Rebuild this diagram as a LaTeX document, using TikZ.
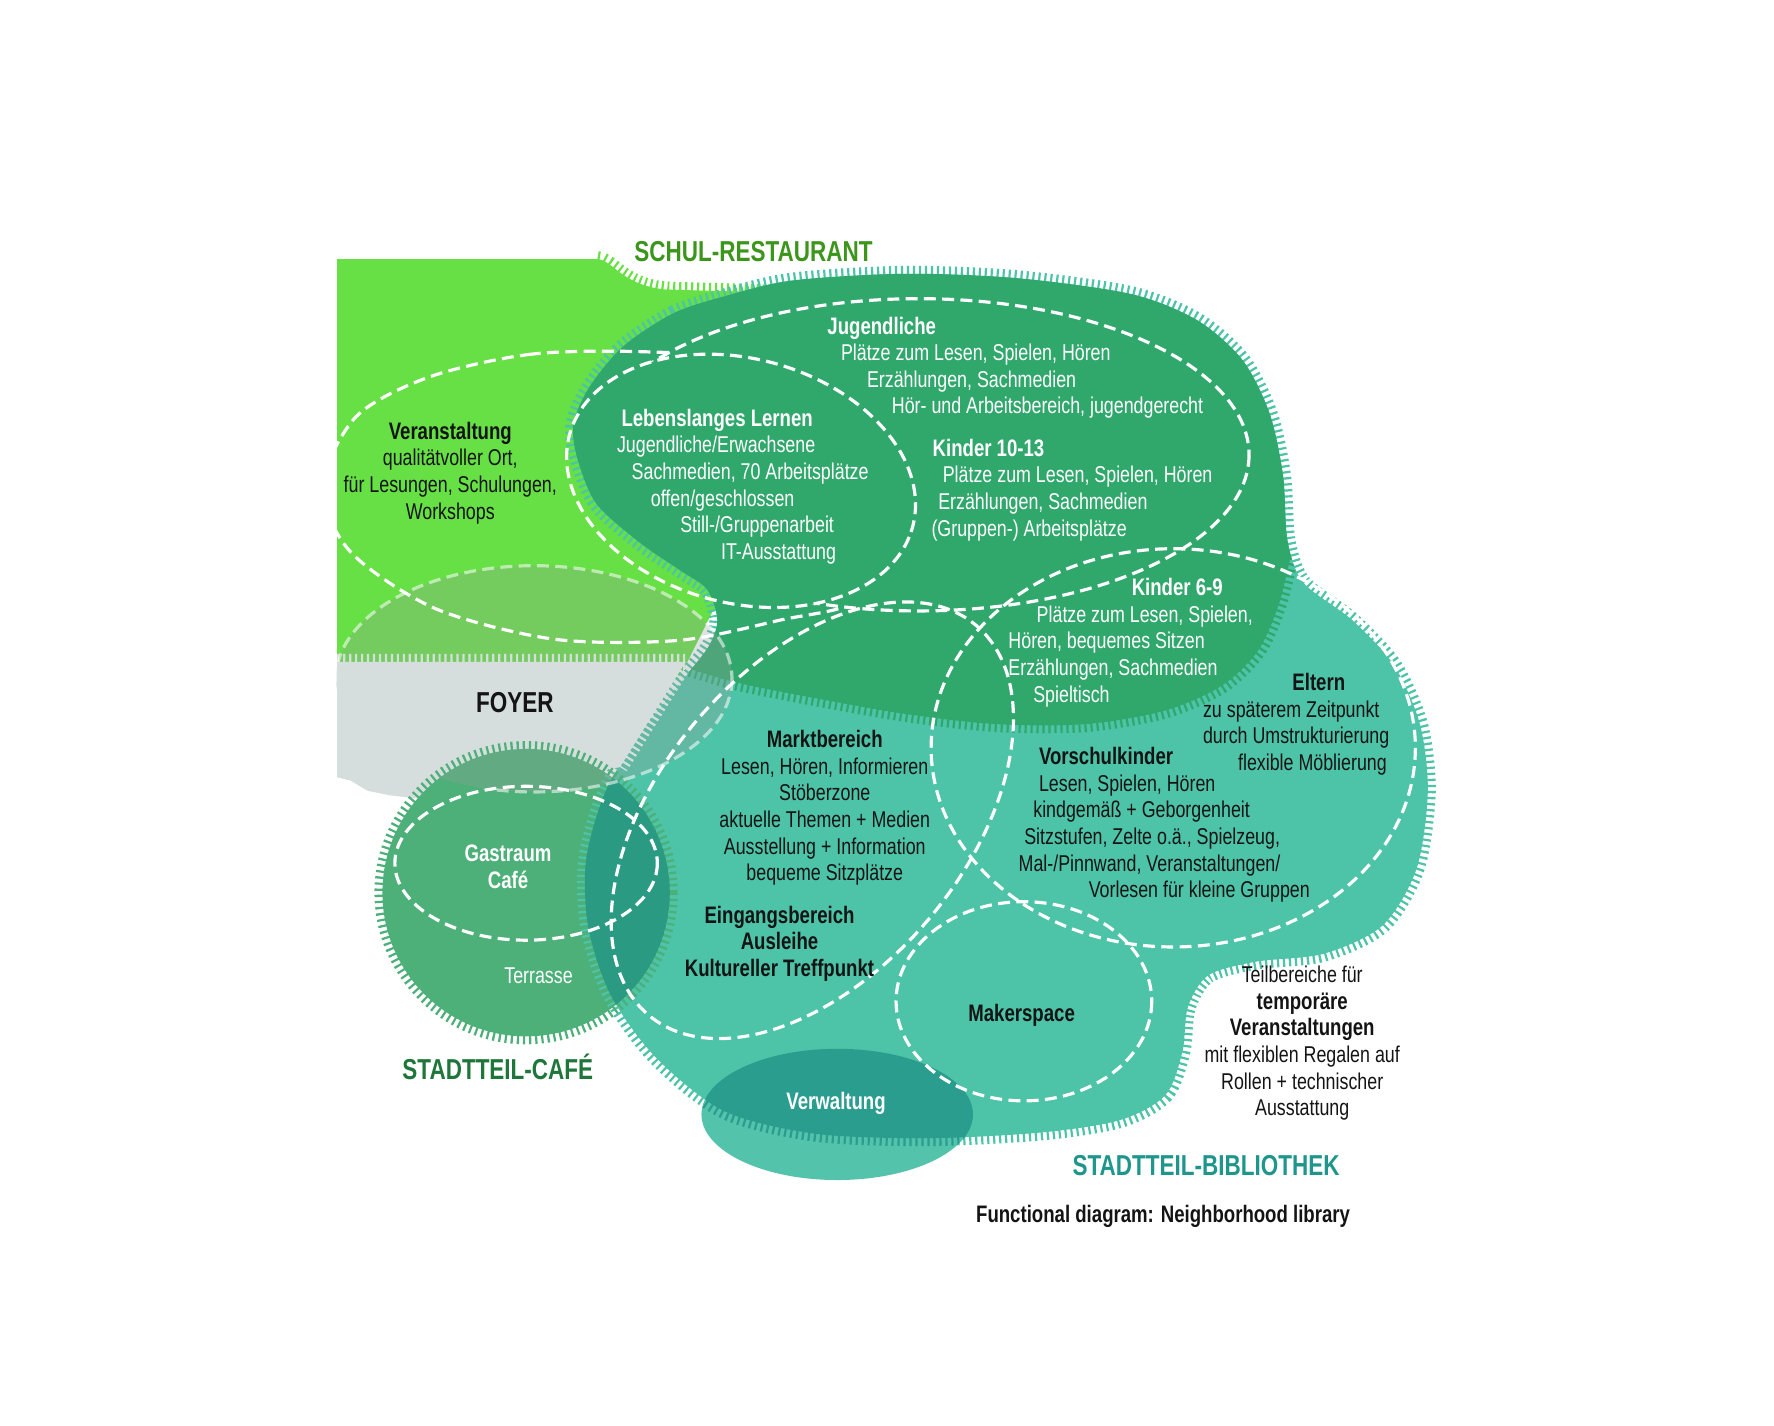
\documentclass[tikz,border=0pt]{standalone}
\usepackage{fontspec}
\setmainfont{Liberation Sans}[FakeStretch=0.78]

\definecolor{lightgreen}{RGB}{102,224,68}
\definecolor{tealblob}{RGB}{77,195,168}
\definecolor{darkgreen}{RGB}{48,168,108}
\definecolor{foyergrey}{RGB}{214,222,221}
\definecolor{cafegreen}{RGB}{76,176,120}
\definecolor{cafedark}{RGB}{42,155,130}
\definecolor{verwlight}{RGB}{84,195,172}
\definecolor{verwdark}{RGB}{42,157,143}
\definecolor{veil}{RGB}{150,160,156}
\definecolor{restgreen}{RGB}{60,150,28}
\definecolor{cafetitle}{RGB}{30,118,58}
\definecolor{libtitle}{RGB}{30,150,140}
\definecolor{ink}{RGB}{20,20,20}

\newcommand{\bodyfont}{\fontsize{11.5}{13.4}\selectfont}
\newcommand{\zonehead}[1]{{\fontsize{12}{13.4}\selectfont\bfseries #1}}
\newcommand{\titlefont}{\fontsize{14.5}{17}\selectfont\bfseries}
\newcommand{\tiltell}[5]{plot[domain=0:355,samples=72,smooth cycle] ({#1+#3*cos(\x)*cos(#5)-#4*sin(\x)*sin(#5)},{#2+#3*cos(\x)*sin(#5)+#4*sin(\x)*cos(#5)})}
\newcommand{\tealpath}{plot[smooth cycle] coordinates {(640,262) (595,277) (551,306) (521,342) (507,374) (510,404) (527,445) (566,480) (601,504) (625,521) (634,548) (626,572) (600,605) (565,650) (535,700) (518,760) (520,820) (540,880) (580,935) (640,982) (720,1002) (820,1006) (920,1001) (990,990) (1030,968) (1045,930) (1050,890) (1068,862) (1110,850) (1170,843) (1222,818) (1252,768) (1262,700) (1255,640) (1232,588) (1195,548) (1152,515) (1138,478) (1134,420) (1122,365) (1098,318) (1058,283) (1000,260) (900,246) (800,242) (700,248)}}
\newcommand{\darkline}{plot[smooth] coordinates {(600,588) (650,603) (720,617) (800,631) (880,640) (960,640) (1030,628) (1080,606) (1112,575) (1130,535) (1140,495)}}
\newcommand{\greypath}{(298,585) -- (606,585) -- (548,678) -- (470,692) -- (370,706) -- (345,703) -- (325,699) -- (310,690) -- (298,687) -- cycle}
\newcommand{\cafepath}{(465,789) circle (127)}
\newcommand{\lebpath}{\tiltell{655}{425}{157}{108}{15}}
\newcommand{\jugpath}{(812,402) ellipse (292 and 138)}
\newcommand{\verpath}{plot[smooth cycle] coordinates {(572,311) (470,313) (380,333) (315,368) (285,430) (310,488) (385,538) (490,565) (600,566) (690,548) (760,530) (800,470) (760,360) (680,320)}}
\newcommand{\veilpath}{(472,600) ellipse (175 and 100)}
\newcommand{\outside}{(0,0) -- (0,1260) -- (1568,1260) -- (1568,0) -- cycle}

\tikzset{hatch/.style={line width=8pt, dash pattern=on 1.1pt off 1.9pt},
  zone/.style={draw=white, line width=1.6pt, dash pattern=on 6pt off 3.2pt}}

\begin{document}
\begin{tikzpicture}[x=0.02cm, y=-0.02cm]
\tikzstyle{lighttext} = [text=white, font=\bodyfont, align=left, inner sep=0pt]
\tikzstyle{darktext} = [text=ink, font=\bodyfont, align=left, inner sep=0pt]
\tikzstyle{title} = [font=\titlefont, inner sep=0pt]

\useasboundingbox[fill=white] (0,0) rectangle (1568,1260);

\draw[hatch, lightgreen] (528,229) .. controls (542,230) and (550,253) .. (590,256) -- (700,259);
\fill[lightgreen] (298,229) -- (528,229) .. controls (542,230) and (550,253) .. (590,256) -- (700,259) -- (700,470) -- (630,540) -- (600,600) -- (298,600) -- cycle;

\draw[hatch, tealblob] \tealpath;
\fill[tealblob] \tealpath;
\begin{scope}
\clip \tealpath;
\draw[hatch, darkgreen] \darkline;
\fill[darkgreen] \darkline -- (1300,495) -- (1300,150) -- (470,150) -- (470,588) -- cycle;
\end{scope}

\fill[verwlight] (740,985) ellipse (120 and 58);
\begin{scope}
\clip \tealpath;
\fill[verwdark] (740,985) ellipse (120 and 58);
\end{scope}
\begin{scope}
\clip (740,985) ellipse (120 and 58);
\draw[hatch, verwdark] \tealpath;
\end{scope}

\fill[veil, fill opacity=0.3] \veilpath;

\draw[hatch, foyergrey] (298,585) -- (606,585) -- (548,678);
\fill[foyergrey] \greypath;

\draw[hatch, cafegreen] \cafepath;
\fill[cafegreen] \cafepath;
\begin{scope}
\clip \cafepath;
\draw[hatch, tealblob] \tealpath;
\clip \tealpath;
\fill[cafedark] \cafepath;
\end{scope}
\begin{scope}
\clip \cafepath;
\fill[veil, fill opacity=0.3] \veilpath;
\end{scope}
\begin{scope}
\clip \outside \greypath;
\draw[zone, draw opacity=0.55] \veilpath;
\end{scope}

\draw[zone] \lebpath;
\begin{scope}
\clip \outside \lebpath;
\draw[zone] \jugpath;
\end{scope}
\begin{scope}
\clip (298,0) rectangle (1568,1260);
\clip \outside \lebpath;
\clip \outside \jugpath;
\draw[zone] \verpath;
\end{scope}
\draw[zone] (1037,661) ellipse (214 and 176);
\draw[zone] \tiltell{718}{725}{225}{135}{-50};
\draw[zone] (465,763) ellipse (116 and 68);
\draw[zone] (905,885) ellipse (113 and 88);

\node[title, text=restgreen] (restaurant) at (666,222) {SCHUL-RESTAURANT};
\node[title, text=ink] (foyer) at (455,621) {FOYER};
\node[title, text=cafetitle] (cafe) at (440,943) {STADTTEIL-CAFÉ};
\node[title, text=libtitle] (library) at (1066,1030) {STADTTEIL-BIBLIOTHEK};
\node[text=ink, font=\fontsize{12}{14}\selectfont\bfseries, inner sep=0pt] (caption) at (1028,1075) {Functional diagram: Neighborhood library};

\node[lighttext, anchor=west] (youth) at (731,325) {\zonehead{Jugendliche}\\ \hspace*{0.24cm}Plätze zum Lesen, Spielen, Hören\\ \hspace*{0.7cm}Erzählungen, Sachmedien\\ \hspace*{1.14cm}Hör- und Arbeitsbereich, jugendgerecht};
\node[lighttext, anchor=west] (lifelong) at (545,430) {\hspace*{0.08cm}\zonehead{Lebenslanges Lernen}\\ Jugendliche/Erwachsene\\ \hspace*{0.26cm}Sachmedien, 70 Arbeitsplätze\\ \hspace*{0.6cm}offen/geschlossen\\ \hspace*{1.12cm}Still-/Gruppenarbeit\\ \hspace*{1.84cm}IT-Ausstattung};
\node[lighttext, anchor=west] (kids1013) at (823,433) {\hspace*{0.02cm}\zonehead{Kinder 10-13}\\ \hspace*{0.2cm}Plätze zum Lesen, Spielen, Hören\\ \hspace*{0.12cm}Erzählungen, Sachmedien\\ (Gruppen-) Arbeitsplätze};
\node[darktext, align=center] (event) at (398,418) {\zonehead{Veranstaltung}\\ qualitätvoller Ort,\\ für Lesungen, Schulungen,\\ Workshops};
\node[lighttext, anchor=west] (kids69) at (891,568) {\hspace*{2.18cm}\zonehead{Kinder 6-9}\\ \hspace*{0.5cm}Plätze zum Lesen, Spielen,\\ Hören, bequemes Sitzen\\ Erzählungen, Sachmedien\\ \hspace*{0.44cm}Spieltisch};
\node[darktext, anchor=west] (parents) at (1063,640) {\hspace*{1.58cm}\zonehead{Eltern}\\ zu späterem Zeitpunkt\\ durch Umstrukturierung\\ \hspace*{0.62cm}flexible Möblierung};
\node[darktext, align=center] (market) at (729,714) {\zonehead{Marktbereich}\\ Lesen, Hören, Informieren\\ Stöberzone\\ aktuelle Themen + Medien\\ Ausstellung + Information\\ bequeme Sitzplätze};
\node[darktext, anchor=west] (preschool) at (900,729) {\hspace*{0.36cm}\zonehead{Vorschulkinder}\\ \hspace*{0.36cm}Lesen, Spielen, Hören\\ \hspace*{0.26cm}kindgemäß + Geborgenheit\\ \hspace*{0.1cm}Sitzstufen, Zelte o.ä., Spielzeug,\\ Mal-/Pinnwand, Veranstaltungen/\\ \hspace*{1.24cm}Vorlesen für kleine Gruppen};
\node[darktext, align=center, font=\fontsize{12}{13.4}\selectfont\bfseries] (entrance) at (689,834) {Eingangsbereich\\ Ausleihe\\ Kultureller Treffpunkt};
\node[lighttext, align=center, font=\fontsize{12}{13.4}\selectfont\bfseries] (guestroom) at (449,766) {Gastraum\\ Café};
\node[lighttext] (terrace) at (476,862) {Terrasse};
\node[darktext, font=\fontsize{12}{13.4}\selectfont\bfseries] (maker) at (903,897) {Makerspace};
\node[lighttext, font=\fontsize{12}{13.4}\selectfont\bfseries] (admin) at (739,975) {Verwaltung};
\node[darktext, align=center] (temporary) at (1151,922) {Teilbereiche für\\ \zonehead{temporäre}\\ \zonehead{Veranstaltungen}\\ mit flexiblen Regalen auf\\ Rollen + technischer\\ Ausstattung};
\end{tikzpicture}
\end{document}
